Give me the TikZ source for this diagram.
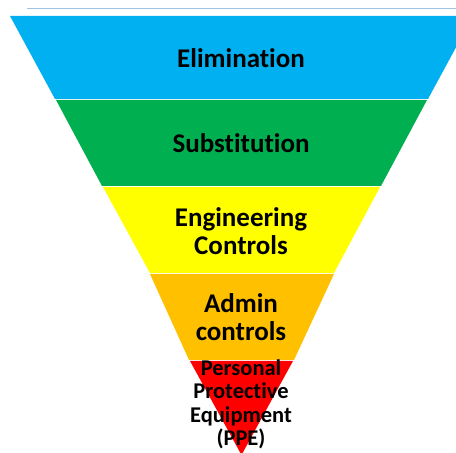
\documentclass[tikz,border=0pt]{standalone}
\usepackage{fontspec}
\setmainfont[Ligatures=CommonOff]{Carlito}
\definecolor{bandblue}{HTML}{00B0F0}
\definecolor{bandgreen}{HTML}{00B050}
\definecolor{bandyellow}{HTML}{FFFF00}
\definecolor{bandorange}{HTML}{FFC000}
\definecolor{bandred}{HTML}{FF0000}
\definecolor{topline}{HTML}{9DC3E6}
\begin{document}
\begin{tikzpicture}[x=1pt,y=1pt,
  lbl/.style={font=\bfseries\fontsize{27}{28.5}\selectfont, align=center, text=black, inner sep=0pt},
  lblsmall/.style={font=\bfseries\fontsize{22.5}{23.5}\selectfont, align=center, text=black, inner sep=0pt}]
\useasboundingbox (0,0) rectangle (456,453);
\clip (0,0) rectangle (456,453);
\fill[white] (0,0) rectangle (456,453);
\draw[topline, line width=1pt] (27,444) -- (456,444);
\fill[bandblue] (10,437) -- (473,437) -- (428,354) -- (55,354) -- cycle;
\fill[bandgreen] (56,353) -- (427,353) -- (381,267) -- (102,267) -- cycle;
\fill[bandyellow] (103,266) -- (380,266) -- (334,180) -- (150,180) -- cycle;
\fill[bandorange] (150,179) -- (334,179) -- (294,93) -- (189,93) -- cycle;
\fill[bandred] (190,92) -- (293,92) -- (241.5,-2) -- cycle;
\node[lbl] (elim) at (241,395) {Elimination};
\node[lbl] (subs) at (241,310) {Substitution};
\node[lbl] (eng) at (241,222) {Engineering\\Controls};
\node[lbl] (adm) at (241,136) {Admin\\controls};
\node[lblsmall] (ppe) at (241,48.5) {Personal\\Protective\\Equipment\\(PPE)};
\end{tikzpicture}
\end{document}
